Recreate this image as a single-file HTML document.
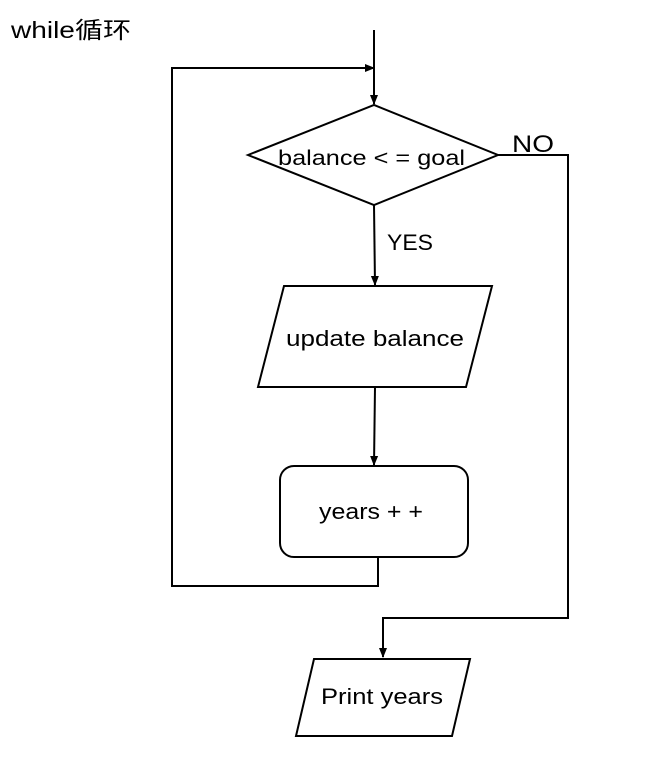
<!DOCTYPE html>
<html><head><meta charset="utf-8"><style>
html,body{margin:0;padding:0;background:#fff;width:665px;height:769px;overflow:hidden}
text{font-family:"Liberation Sans","Noto Sans CJK SC",sans-serif;fill:#000}
</style></head><body>
<svg width="665" height="769" viewBox="0 0 665 769" xmlns="http://www.w3.org/2000/svg">
<defs><marker id="a" markerWidth="10" markerHeight="10" refX="9" refY="5" orient="auto" markerUnits="userSpaceOnUse"><path d="M0,1 L10,5 L0,9 z" fill="#000"/></marker></defs>
<text x="11" y="38" font-size="23" textLength="120" lengthAdjust="spacingAndGlyphs">while循环</text>
<g stroke="#000" stroke-width="2" fill="none">
<line x1="374" y1="30" x2="374" y2="104" marker-end="url(#a)"/>
<polyline points="378,558 378,586 172,586 172,68 374,68" marker-end="url(#a)"/>
<polygon points="248,155 374,105 498,155 374,205" fill="#fff"/>
<polyline points="498,155 568,155 568,618 383,618 383,657" marker-end="url(#a)"/>
<line x1="374" y1="205" x2="375" y2="285" marker-end="url(#a)"/>
<polygon points="284,286 492,286 466,387 258,387"/>
<line x1="375" y1="387" x2="374" y2="465" marker-end="url(#a)"/>
<rect x="280" y="466" width="188" height="91" rx="14"/>
<polygon points="314,659 470,659 452,736 296,736"/>
</g>
<text x="278" y="165" font-size="21" textLength="187" lengthAdjust="spacingAndGlyphs">balance &lt; = goal</text>
<text x="512" y="152" font-size="24" textLength="42" lengthAdjust="spacingAndGlyphs">NO</text>
<text x="387" y="250" font-size="22" textLength="46" lengthAdjust="spacingAndGlyphs">YES</text>
<text x="286" y="346" font-size="22" textLength="178" lengthAdjust="spacingAndGlyphs">update balance</text>
<text x="319" y="519" font-size="22" textLength="104" lengthAdjust="spacingAndGlyphs">years + +</text>
<text x="321" y="704" font-size="22" textLength="122" lengthAdjust="spacingAndGlyphs">Print years</text>
</svg>
</body></html>
